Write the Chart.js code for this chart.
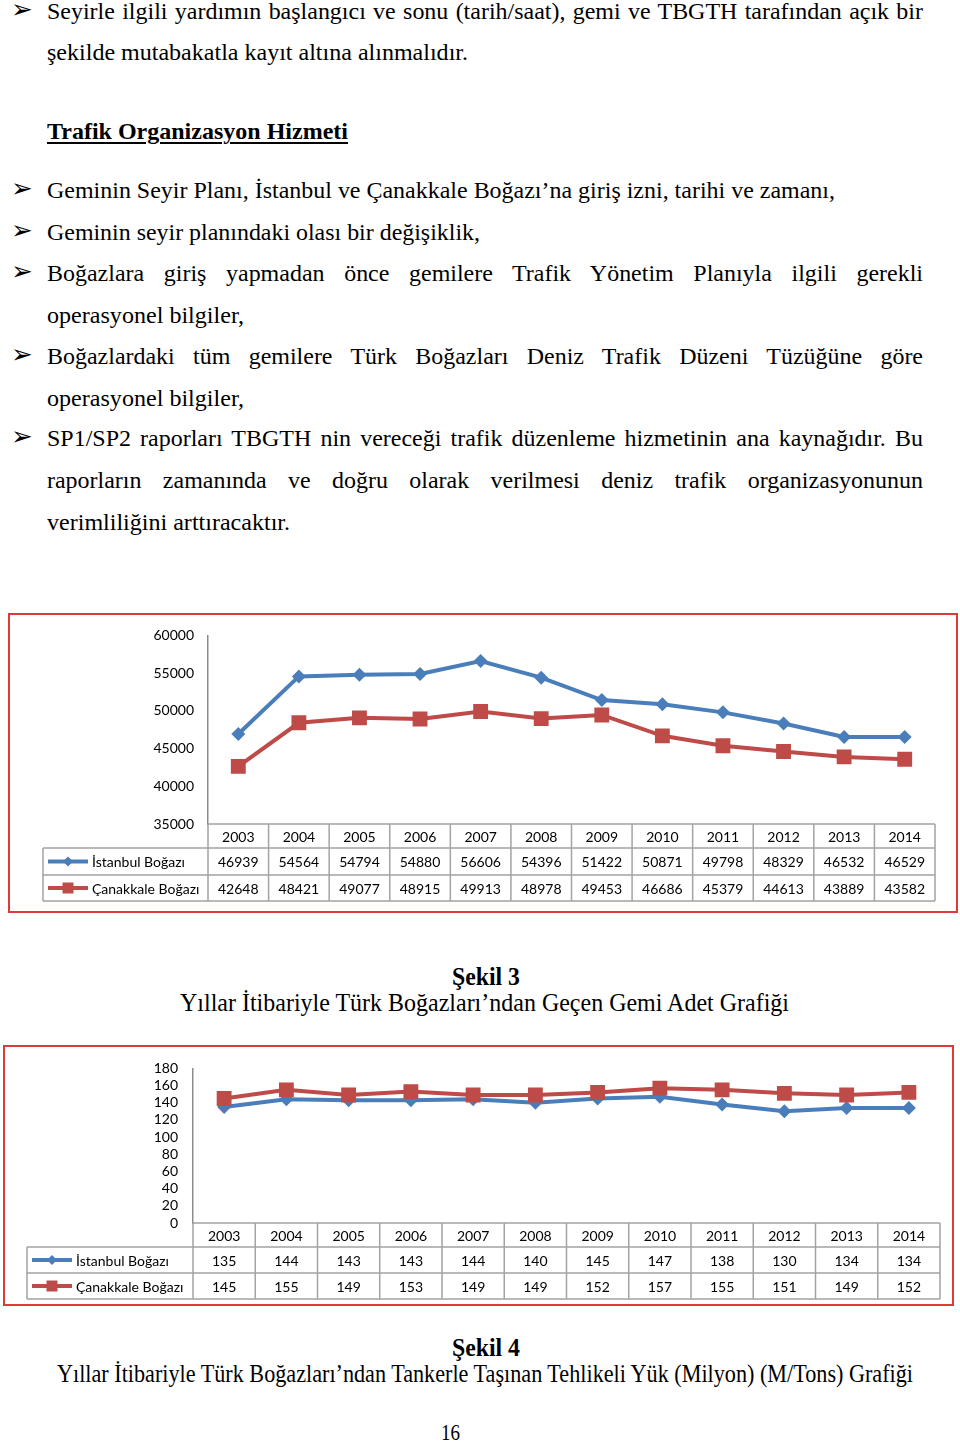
<!DOCTYPE html>
<html><head><meta charset="utf-8">
<script src="https://cdn.jsdelivr.net/npm/chart.js@4.4.0/dist/chart.umd.min.js"></script>
<style>
html,body{margin:0;padding:0;background:#fff;}
body{width:960px;height:1442px;position:relative;overflow:hidden;font-family:"Liberation Serif","Times New Roman",serif;color:#000;}
.t{position:absolute;font-size:23px;line-height:26px;white-space:nowrap;transform-origin:0 0;}
.c{font-size:25px;line-height:30px;}
.bo{font-weight:bold;}
.u{text-decoration:underline;text-decoration-thickness:2px;text-underline-offset:3px;}
.bl{position:absolute;font-family:"DejaVu Sans";font-size:26px;line-height:26px;left:11px;}
.box{position:absolute;border:2px solid #e0393c;box-sizing:border-box;}
canvas{position:absolute;}
</style></head>
<body>
<div class="bl" style="top:-4px">➢</div>
<div class="t body" data-j="1" data-r="923" style="left:47px;top:-0.8px">Seyirle ilgili yardımın başlangıcı ve sonu (tarih/saat), gemi ve TBGTH tarafından açık bir</div>
<div class="t" data-f="1" data-r="468" style="left:47px;top:40.2px">şekilde mutabakatla kayıt altına alınmalıdır.</div>
<div class="t bo u" data-f="1" data-r="348" style="left:47px;top:119.2px">Trafik Organizasyon Hizmeti</div>
<div class="bl" style="top:175px">➢</div>
<div class="t" id="ref" data-f="1" data-r="835" style="left:47px;top:178.2px">Geminin Seyir Planı, İstanbul ve Çanakkale Boğazı’na giriş izni, tarihi ve zamanı,</div>
<div class="bl" style="top:217px">➢</div>
<div class="t" data-f="1" data-r="480" style="left:47px;top:220.2px">Geminin seyir planındaki olası bir değişiklik,</div>
<div class="bl" style="top:258px">➢</div>
<div class="t body" data-j="1" data-r="923" style="left:47px;top:261.2px">Boğazlara giriş yapmadan önce gemilere Trafik Yönetim Planıyla ilgili gerekli</div>
<div class="t" data-f="1" data-r="244" style="left:47px;top:303.2px">operasyonel bilgiler,</div>
<div class="bl" style="top:341px">➢</div>
<div class="t body" data-j="1" data-r="923" style="left:47px;top:344.2px">Boğazlardaki tüm gemilere Türk Boğazları Deniz Trafik Düzeni Tüzüğüne göre</div>
<div class="t" data-f="1" data-r="244" style="left:47px;top:386.2px">operasyonel bilgiler,</div>
<div class="bl" style="top:423px">➢</div>
<div class="t body" data-j="1" data-r="923" style="left:47px;top:426.2px">SP1/SP2 raporları TBGTH nin vereceği trafik düzenleme hizmetinin ana kaynağıdır. Bu</div>
<div class="t body" data-j="1" data-r="923" style="left:47px;top:468.2px">raporların zamanında ve doğru olarak verilmesi deniz trafik organizasyonunun</div>
<div class="t" data-f="1" data-r="290" style="left:47px;top:510.2px">verimliliğini arttıracaktır.</div>

<div class="box" style="left:8px;top:613px;width:950px;height:300px"></div>
<canvas id="c1" width="950" height="300" style="left:8px;top:613px;width:950px;height:300px"></canvas>

<div class="t c bo" data-f="1" data-r="520" style="left:452px;top:961.6px">Şekil 3</div>
<div class="t c" data-f="1" data-r="789" style="left:180px;top:987.6px">Yıllar İtibariyle Türk Boğazları’ndan Geçen Gemi Adet Grafiği</div>

<div class="box" style="left:3px;top:1045px;width:951px;height:261px"></div>
<canvas id="c2" width="951" height="261" style="left:3px;top:1045px;width:951px;height:261px"></canvas>

<div class="t c bo" data-f="1" data-r="520" style="left:452px;top:1332.6px">Şekil 4</div>
<div class="t c" data-f="1" data-r="913" style="left:57px;top:1358.6px">Yıllar İtibariyle Türk Boğazları’ndan Tankerle Taşınan Tehlikeli Yük (Milyon) (M/Tons) Grafiği</div>
<div class="t" data-f="1" data-r="460" style="left:441px;top:1420.2px">16</div>

<script>
// ---- Data ----
const years = ["2003","2004","2005","2006","2007","2008","2009","2010","2011","2012","2013","2014"];
const seriesNames = ["İstanbul Boğazı", "Çanakkale Boğazı"];
const shipsIstanbul = [46939, 54564, 54794, 54880, 56606, 54396, 51422, 50871, 49798, 48329, 46532, 46529];
const shipsCanakkale = [42648, 48421, 49077, 48915, 49913, 48978, 49453, 46686, 45379, 44613, 43889, 43582];
const cargoIstanbul = [135, 144, 143, 143, 144, 140, 145, 147, 138, 130, 134, 134];
const cargoCanakkale = [145, 155, 149, 153, 149, 149, 152, 157, 155, 151, 149, 152];
const ticks1 = [35000, 40000, 45000, 50000, 55000, 60000];
const ticks2 = [0, 20, 40, 60, 80, 100, 120, 140, 160, 180];

// ---- Text fitting ----
const refEl = document.getElementById('ref');
const sGlobal = (835 - 47) / refEl.getBoundingClientRect().width;
document.querySelectorAll('[data-r]').forEach(el => {
  const l = parseFloat(el.style.left), target = +el.dataset.r - l;
  const w = el.getBoundingClientRect().width;
  if (el.dataset.j) {
    const spaces = (el.textContent.match(/ /g) || []).length;
    el.style.wordSpacing = ((target / sGlobal - w) / spaces) + 'px';
    el.style.transform = 'scaleX(' + sGlobal + ')';
  } else {
    el.style.transform = 'scaleX(' + (target / w) + ')';
  }
});

const BLUE = '#4a7ebb', RED = '#be4b48';
Chart.defaults.font.family = 'Lato';
Chart.defaults.font.size = 14;
Chart.defaults.color = '#000';

function marker(ctx, style, x, y, color) {
  ctx.fillStyle = color;
  ctx.beginPath();
  if (style === 'rectRot') {
    const r = 5;
    ctx.moveTo(x, y - r); ctx.lineTo(x + r, y); ctx.lineTo(x, y + r); ctx.lineTo(x - r, y);
  } else {
    const h = 5.5;
    ctx.rect(x - h, y - h, 2 * h, 2 * h);
  }
  ctx.closePath(); ctx.fill();
}

const tablePlugin = {
  id: 'dataTable',
  afterDraw(chart, args, opts) {
    const ctx = chart.ctx, ca = chart.chartArea, xs = chart.scales.x;
    const n = chart.data.labels.length;
    const cw = (ca.right - ca.left) / n;
    const rh = opts.rows, L = opts.legendLeft;
    const y0 = ca.bottom, y1 = y0 + rh[0], y2 = y1 + rh[1], y3 = y2 + rh[2];
    ctx.save();
    ctx.strokeStyle = '#a3a3a3'; ctx.lineWidth = 1.5;
    ctx.beginPath();
    ctx.moveTo(ca.left, y0); ctx.lineTo(ca.right, y0);
    [y1, y2, y3].forEach(y => { ctx.moveTo(L, y); ctx.lineTo(ca.right, y); });
    for (let i = 0; i <= n; i++) { const xx = ca.left + i * cw; ctx.moveTo(xx, y0); ctx.lineTo(xx, y3); }
    ctx.moveTo(L, y1); ctx.lineTo(L, y3);
    ctx.stroke();
    ctx.fillStyle = '#000'; ctx.font = '14px Lato';
    ctx.textAlign = 'center'; ctx.textBaseline = 'middle';
    const rowY = [(y1 + y2) / 2 + 1, (y2 + y3) / 2 + 1];
    chart.data.labels.forEach((lab, i) => {
      const cx = xs.getPixelForValue(i);
      ctx.fillText(lab, cx, (y0 + y1) / 2 + 1);
      chart.data.datasets.forEach((ds, k) => ctx.fillText(String(ds.data[i]), cx, rowY[k]));
    });
    chart.data.datasets.forEach((ds, k) => {
      const yy = rowY[k] - 1;
      ctx.strokeStyle = ds.borderColor; ctx.lineWidth = 4;
      ctx.beginPath(); ctx.moveTo(L + 5, yy); ctx.lineTo(L + 45, yy); ctx.stroke();
      marker(ctx, ds.pointStyle, L + 25, yy, ds.borderColor);
      ctx.fillStyle = '#000'; ctx.textAlign = 'left';
      ctx.fillText(ds.label, L + 49, yy + 1);
    });
    ctx.restore();
  }
};

function makeChart(id, a, b, yticks, pad, yWidth, tickPad, rows, legendLeft) {
  const lo = yticks[0], hi = yticks[yticks.length - 1], step = yticks[1] - yticks[0];
  return new Chart(document.getElementById(id), {
    type: 'line',
    data: {
      labels: years,
      datasets: [
        { label: seriesNames[0], data: a, borderColor: BLUE, backgroundColor: BLUE, borderWidth: 4,
          pointStyle: 'rectRot', pointRadius: 7, pointBorderWidth: 0, tension: 0, order: 1 },
        { label: seriesNames[1], data: b, borderColor: RED, backgroundColor: RED, borderWidth: 4,
          pointStyle: 'rect', pointRadius: 10.5, pointBorderWidth: 0, tension: 0, order: 0 }
      ]
    },
    options: {
      responsive: false, animation: false, devicePixelRatio: 1,
      layout: { padding: pad, autoPadding: false },
      plugins: { legend: { display: false }, tooltip: { enabled: false },
                 dataTable: { rows: rows, legendLeft: legendLeft } },
      scales: {
        x: { display: false, offset: true },
        y: { min: lo, max: hi,
             afterBuildTicks: s => { s.ticks = yticks.map(v => ({ value: v })); },
             ticks: { stepSize: step, autoSkip: false, padding: tickPad, color: '#000',
                      font: { size: 14, family: 'Lato' }, callback: v => String(v) },
             grid: { display: false, drawTicks: false },
             border: { display: true, color: '#8c8c8c', width: 1.5 },
             afterFit: s => { s.width = yWidth; } }
      }
    },
    plugins: [tablePlugin]
  });
}

makeChart('c1', shipsIstanbul, shipsCanakkale, ticks1, { left: 0, top: 22, right: 23, bottom: 89 }, 200, 14, [24, 27, 26], 35);
makeChart('c2', cargoIstanbul, cargoCanakkale, ticks2, { left: 0, top: 22, right: 14, bottom: 83 }, 190, 15, [24, 26, 26], 24);
</script>
</body></html>
